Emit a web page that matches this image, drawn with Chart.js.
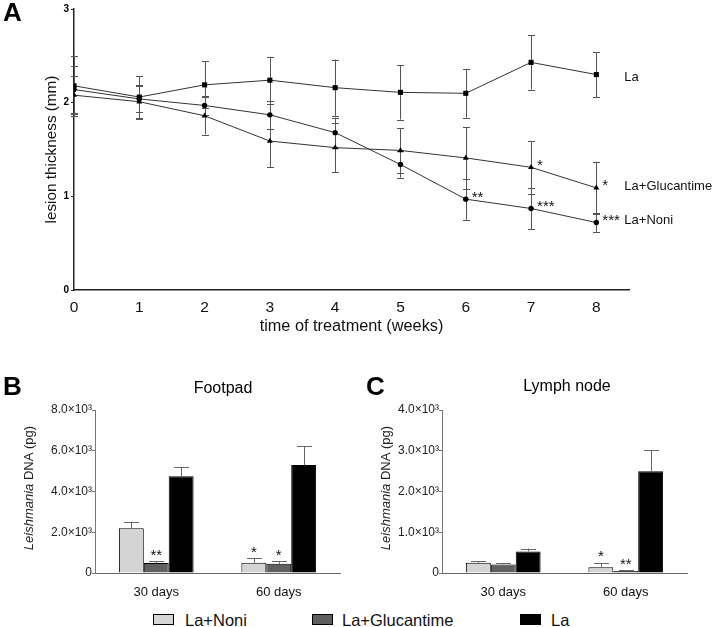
<!DOCTYPE html>
<html>
<head>
<meta charset="utf-8">
<script src="https://cdn.jsdelivr.net/npm/chart.js@4"></script>
<style>
  body { margin: 0; width: 715px; height: 627px; background: #fff; position: relative; overflow: hidden;
         font-family: "Liberation Sans", Arial, sans-serif; }
  canvas { position: absolute; }
  #chartA { left: 0; top: 0; }
  #chartB { left: 0; top: 370px; }
  #chartC { left: 357px; top: 370px; }
  .leg { position: absolute; top: 610px; font-size: 16.5px; color: #111; line-height: 20px; }
  .leg i { position: absolute; left: 0; top: 4px; width: 19px; height: 9px; border: 1px solid #000; }
  .leg span { position: absolute; white-space: nowrap; }
</style>
</head>
<body>
<canvas id="chartA" width="715" height="340"></canvas>
<canvas id="chartB" width="357" height="230"></canvas>
<canvas id="chartC" width="358" height="230"></canvas>

<div class="leg" style="left:153px"><i style="background:#d6d6d6"></i><span style="left:32px">La+Noni</span></div>
<div class="leg" style="left:312px"><i style="background:#5e5e5e"></i><span style="left:30px">La+Glucantime</span></div>
<div class="leg" style="left:520px"><i style="background:#000"></i><span style="left:31px">La</span></div>

<script>
// ==================================================
// 1. DATA
// ==================================================
const weeks = [0, 1, 2, 3, 4, 5, 6, 7, 8];

const laMean   = [2.18, 2.06, 2.19, 2.24, 2.16, 2.11, 2.10, 2.43, 2.30];
const laErr    = [0.32, 0.22, 0.25, 0.25, 0.30, 0.29, 0.26, 0.29, 0.24];
const glucMean = [2.08, 2.01, 1.86, 1.59, 1.52, 1.49, 1.41, 1.31, 1.09];
const glucErr  = [0.20, 0.18, 0.20, 0.28, 0.26, 0.24, 0.33, 0.28, 0.28];
const noniMean = [2.14, 2.04, 1.97, 1.87, 1.68, 1.34, 0.97, 0.87, 0.72];
const noniErr  = [0.25, 0.14, 0.10, 0.15, 0.16, 0.14, 0.22, 0.22, 0.10];

// [dataset index, week index, stars]  (0 = La, 1 = Glucantime, 2 = Noni)
const sigA = [[2, 6, '**'], [2, 7, '***'], [2, 8, '***'], [1, 7, '*'], [1, 8, '*']];

const groups = ['30 days', '60 days'];

const footNoni    = [2200, 500];
const footNoniErr = [320, 230];
const footGluc    = [490, 450];
const footGlucErr = [80, 130];
const footLa      = [4750, 5300];
const footLaErr   = [440, 920];
const sigFoot = [[1, 0, '**'], [0, 1, '*'], [1, 1, '*']];

const lymphNoni    = [250, 140];
const lymphNoniErr = [40, 110];
const lymphGluc    = [210, 50];
const lymphGlucErr = [25, 15];
const lymphLa      = [530, 2500];
const lymphLaErr   = [70, 510];
const sigLymph = [[0, 1, '*'], [1, 1, '**']];

const FONT = '"Liberation Sans", Arial, sans-serif';

// ==================================================
// 2. PLUGINS
// ==================================================
function drawErrors(chart, opts) {
    const ctx = chart.ctx, ys = chart.scales.y;
    ctx.save();
    ctx.strokeStyle = opts.color;
    ctx.lineWidth = 1;
    chart.data.datasets.forEach((ds, i) => {
        const errs = opts.errors[i];
        chart.getDatasetMeta(i).data.forEach((el, j) => {
            const raw = ds.data[j];
            const v = typeof raw === 'object' ? raw.y : raw;
            const x = Math.round(el.x) + 0.5;
            const top = ys.getPixelForValue(v + errs[j]);
            const bot = opts.upOnly ? el.y : ys.getPixelForValue(v - errs[j]);
            ctx.beginPath();
            ctx.moveTo(x, bot); ctx.lineTo(x, top);
            ctx.moveTo(x - opts.cap, Math.round(top) + 0.5);
            ctx.lineTo(x + opts.cap, Math.round(top) + 0.5);
            if (!opts.upOnly) {
                ctx.moveTo(x - opts.cap, Math.round(bot) + 0.5);
                ctx.lineTo(x + opts.cap, Math.round(bot) + 0.5);
            }
            ctx.stroke();
        });
    });
    ctx.restore();
}

const errBars = {
    id: 'errBars',
    beforeDatasetsDraw(chart, args, opts) { if (opts.under) drawErrors(chart, opts); },
    afterDatasetsDraw(chart, args, opts) { if (!opts.under) drawErrors(chart, opts); }
};

// stars next to points (line) or above error bars (bars)
const sigMarks = {
    id: 'sigMarks',
    afterDatasetsDraw(chart, args, opts) {
        const ctx = chart.ctx, ys = chart.scales.y;
        ctx.save();
        ctx.fillStyle = '#111';
        ctx.font = '15px ' + FONT;
        ctx.textBaseline = 'alphabetic';
        opts.marks.forEach(([d, j, txt]) => {
            const el = chart.getDatasetMeta(d).data[j];
            if (opts.bar) {
                const v = chart.data.datasets[d].data[j] + opts.errors[d][j];
                const cy = ys.getPixelForValue(v) - 10;
                ctx.textAlign = 'center';
                ctx.fillText(txt, el.x, cy + 8.5);
            } else {
                ctx.textAlign = 'left';
                ctx.fillText(txt, el.x + 6, el.y - 6 + 8.5);
            }
        });
        ctx.restore();
    }
};

// series names at the end of the lines
const endLabels = {
    id: 'endLabels',
    afterDatasetsDraw(chart, args, opts) {
        if (!opts.show) return;
        const ctx = chart.ctx;
        ctx.save();
        ctx.fillStyle = '#111';
        ctx.font = '13px ' + FONT;
        ctx.textAlign = 'left';
        ctx.textBaseline = 'middle';
        chart.data.datasets.forEach((ds, i) => {
            const pts = chart.getDatasetMeta(i).data;
            const last = pts[pts.length - 1];
            ctx.fillText(ds.label, last.x + 28, last.y + opts.dy[i]);
        });
        ctx.restore();
    }
};

// panel letters, titles and the y title with an italic word
const panelText = {
    id: 'panelText',
    afterDraw(chart, args, opts) {
        const ctx = chart.ctx;
        ctx.save();
        ctx.fillStyle = '#000';
        ctx.textBaseline = 'middle';
        (opts.items || []).forEach(t => {
            ctx.font = t.font;
            ctx.textAlign = t.align || 'left';
            ctx.fillText(t.text, t.x, t.y);
        });
        if (opts.yTitle) {
            const yt = opts.yTitle;
            ctx.translate(yt.x, yt.y);
            ctx.rotate(-Math.PI / 2);
            const fi = 'italic 13px ' + FONT, fn = '13px ' + FONT;
            ctx.font = fi; const w1 = ctx.measureText(yt.italic).width;
            ctx.font = fn; const w2 = ctx.measureText(yt.rest).width;
            let x0 = -(w1 + w2) / 2;
            ctx.textAlign = 'left';
            ctx.fillStyle = '#222';
            ctx.font = fi; ctx.fillText(yt.italic, x0, 0);
            ctx.font = fn; ctx.fillText(yt.rest, x0 + w1, 0);
        }
        ctx.restore();
    }
};

// ==================================================
// 3. PANEL A – lesion thickness
// ==================================================
function lineSet(label, means, style, r) {
    return {
        label: label,
        data: weeks.map((w, i) => ({ x: w, y: means[i] })),
        borderColor: '#333',
        borderWidth: 1,
        pointStyle: style,
        pointRadius: r,
        pointBackgroundColor: '#000',
        pointBorderColor: '#000',
        pointBorderWidth: 0,
        tension: 0
    };
}

new Chart(document.getElementById('chartA'), {
    type: 'line',
    data: {
        datasets: [
            lineSet('La', laMean, 'rect', 3.6),
            lineSet('La+Glucantime', glucMean, 'triangle', 3.4),
            lineSet('La+Noni', noniMean, 'circle', 2.7)
        ]
    },
    options: {
        responsive: false,
        animation: false,
        layout: { padding: { left: 39, top: 9, right: 86, bottom: 0 } },
        plugins: {
            legend: { display: false },
            tooltip: { enabled: false },
            errBars: { errors: [laErr, glucErr, noniErr], cap: 3.5, color: '#555', under: true },
            sigMarks: { marks: sigA },
            endLabels: { show: true, dy: [3, -1, -2] },
            panelText: { items: [{ text: 'A', x: 3, y: 14, font: 'bold 26px ' + FONT }] }
        },
        scales: {
            x: {
                type: 'linear', min: 0, max: 8.5,
                afterFit: s => { s.height = 50; },
                border: { color: '#222', width: 1.5 },
                grid: { drawOnChartArea: false, drawTicks: false },
                ticks: { stepSize: 1, includeBounds: false, padding: 8, color: '#111',
                         font: { family: FONT, size: 15.5 } },
                title: { display: true, text: 'time of treatment (weeks)', color: '#111',
                         font: { family: FONT, size: 16.3 }, padding: { top: 4, bottom: 4 } }
            },
            y: {
                min: 0, max: 3,
                afterFit: s => { s.width = 35; },
                border: { color: '#222', width: 1.5 },
                grid: { drawOnChartArea: false, tickLength: 3, color: '#222' },
                ticks: { stepSize: 1, padding: 2, color: '#000',
                         font: { family: FONT, size: 10, weight: 'bold' } },
                title: { display: true, text: 'lesion thickness (mm)', color: '#111',
                         font: { family: FONT, size: 15.3 }, padding: { top: 4, bottom: 4 } }
            }
        }
    },
    plugins: [errBars, sigMarks, endLabels, panelText]
});

// ==================================================
// 4. PANELS B & C – parasite DNA
// ==================================================
function barSet(label, data, color) {
    return { label: label, data: data, backgroundColor: color, borderColor: '#000', borderWidth: 1 };
}

function barChart(id, noni, gluc, la, errs, sig, yMax, step, padRight, yAxisW, letter, title) {
    return new Chart(document.getElementById(id), {
        type: 'bar',
        data: {
            labels: groups,
            datasets: [
                barSet('La+Noni', noni, '#d4d4d4'),
                barSet('La+Glucantime', gluc, '#606060'),
                barSet('La', la, '#000')
            ]
        },
        options: {
            responsive: false,
            animation: false,
            datasets: { bar: { categoryPercentage: 0.61, barPercentage: 1 } },
            layout: { padding: { left: 0, top: 40, right: padRight, bottom: 0 } },
            plugins: {
                legend: { display: false },
                tooltip: { enabled: false },
                errBars: { errors: errs, cap: 7.5, color: '#666', upOnly: true },
                sigMarks: { marks: sig, bar: true, errors: errs },
                panelText: {
                    items: [letter, title],
                    yTitle: { x: 29, y: 118, italic: 'Leishmania', rest: ' DNA (pg)' }
                }
            },
            scales: {
                x: {
                    afterFit: s => { s.height = 27; },
                    border: { color: '#666', width: 1 },
                    grid: { display: false },
                    ticks: { padding: 4, color: '#111', font: { family: FONT, size: 13 } }
                },
                y: {
                    min: 0, max: yMax,
                    afterFit: s => { s.width = yAxisW; },
                    border: { color: '#777', width: 1 },
                    grid: { drawOnChartArea: false, tickLength: 3, color: '#777' },
                    ticks: {
                        stepSize: step, padding: 0, color: '#222',
                        font: { family: FONT, size: 12 },
                        callback: v => v === 0 ? '0' : (v / 1000).toFixed(1) + '×10³'
                    }
                }
            }
        },
        plugins: [errBars, sigMarks, panelText]
    });
}

barChart('chartB', footNoni, footGluc, footLa, [footNoniErr, footGlucErr, footLaErr], sigFoot,
         8000, 2000, 17, 95,
         { text: 'B', x: 3, y: 18, font: 'bold 26px ' + FONT },
         { text: 'Footpad', x: 223, y: 19, font: '16px ' + FONT, align: 'center' });

barChart('chartC', lymphNoni, lymphGluc, lymphLa, [lymphNoniErr, lymphGlucErr, lymphLaErr], sigLymph,
         4000, 1000, 28, 85,
         { text: 'C', x: 9, y: 18, font: 'bold 26px ' + FONT },
         { text: 'Lymph node', x: 210, y: 17, font: '16px ' + FONT, align: 'center' });
</script>
</body>
</html>
